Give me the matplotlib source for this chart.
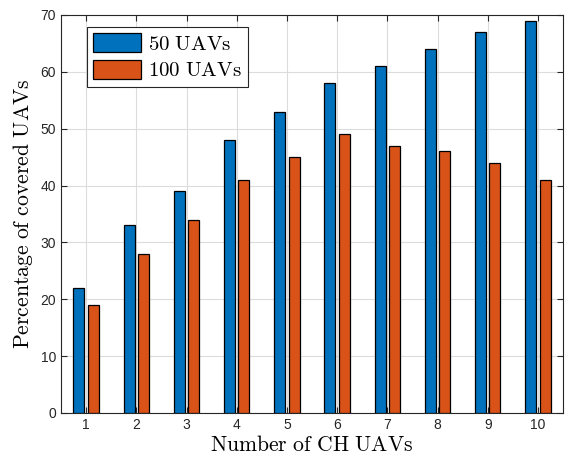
import numpy as np
import matplotlib.pyplot as plt

# data
ch_uavs = [1, 2, 3, 4, 5, 6, 7, 8, 9, 10]
cov_50 = [22, 33, 39, 48, 53, 58, 61, 64, 67, 69]
cov_100 = [19, 28, 34, 41, 45, 49, 47, 46, 44, 41]

plt.rcParams['mathtext.fontset'] = 'cm'
plt.rcParams['font.family'] = ['Liberation Sans', 'DejaVu Sans']

fig = plt.figure(figsize=(5.68, 4.62), dpi=100)
ax = fig.add_axes([0.1074, 0.1061, 0.8838, 0.8615])

x = np.array(ch_uavs)
w = 0.22
off = 0.144

ax.bar(x - off, cov_50, width=w, color='#0072BD', edgecolor='black', linewidth=0.9,
       zorder=3, label=r'$\mathrm{50\ UAVs}$')
ax.bar(x + off, cov_100, width=w, color='#D95319', edgecolor='black', linewidth=0.9,
       zorder=3, label=r'$\mathrm{100\ UAVs}$')

ax.set_xlim(0.5, 10.5)
ax.set_ylim(0, 70)
ax.set_xticks(ch_uavs)
ax.set_yticks(range(0, 71, 10))
ax.tick_params(direction='in', top=True, right=True, labelsize=10, colors='#262626',
               length=4)
ax.grid(True, color='#dcdcdc', linewidth=0.8, zorder=0)
ax.set_axisbelow(True)
for s in ax.spines.values():
    s.set_color('#262626')
    s.set_linewidth(0.8)

ax.set_xlabel(r'$\mathrm{Number\ of\ CH\ UAVs}$', fontsize=15.6, labelpad=2)
ax.set_ylabel(r'$\mathrm{Percentage\ of\ covered\ UAVs}$', fontsize=15.6, labelpad=4)

leg = ax.legend(loc='upper left', bbox_to_anchor=(0.052, 0.97), fontsize=15,
                fancybox=False, edgecolor='#262626', framealpha=1,
                handlelength=2.3, handleheight=1.0, handletextpad=0.3,
                borderpad=0.3, labelspacing=0.3, borderaxespad=0)
leg.get_frame().set_linewidth(0.8)

plt.savefig('out.png', dpi=100)
